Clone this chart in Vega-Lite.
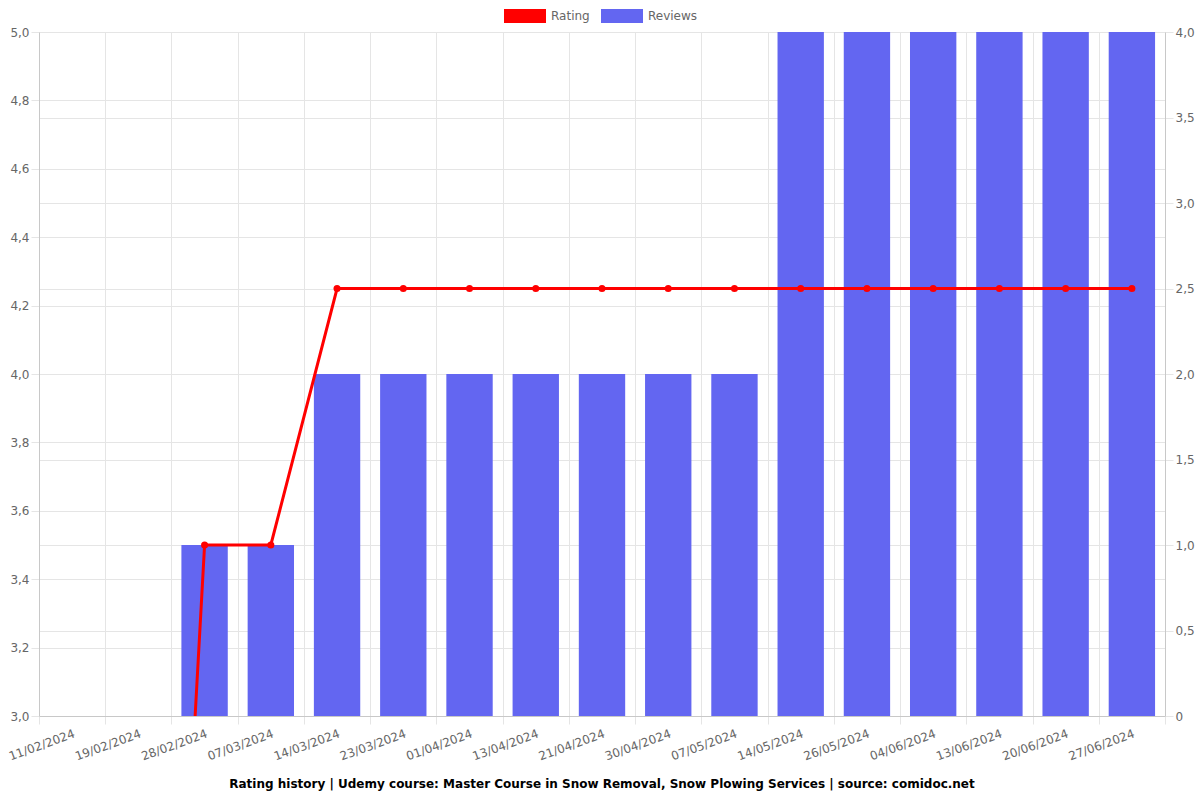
{
  "$schema": "https://vega.github.io/schema/vega-lite/v6.json",
  "width": 1126,
  "height": 684,
  "autosize": {"type": "none"},
  "padding": {"left": 39, "top": 32, "right": 35, "bottom": 84},
  "background": "#ffffff",
  "title": {
    "text": "Rating history | Udemy course: Master Course in Snow Removal, Snow Plowing Services | source: comidoc.net",
    "orient": "bottom",
    "anchor": "middle",
    "font": "DejaVu Sans",
    "fontSize": 12,
    "fontWeight": "bold",
    "color": "#000000",
    "offset": 17
  },
  "config": {
    "view": {"stroke": null},
    "axis": {
      "labelFont": "DejaVu Sans",
      "labelFontSize": 12,
      "labelColor": "#666666",
      "gridColor": "#e5e5e5",
      "domainColor": "#c8c8c8",
      "tickColor": "#e5e5e5",
      "tickSize": 8,
      "title": null
    }
  },
  "data": {
    "values": [
      {"date": "11/02/2024", "rating": 0, "reviews": 0},
      {"date": "19/02/2024", "rating": 0, "reviews": 0},
      {"date": "28/02/2024", "rating": 3.5, "reviews": 1},
      {"date": "07/03/2024", "rating": 3.5, "reviews": 1},
      {"date": "14/03/2024", "rating": 4.25, "reviews": 2},
      {"date": "23/03/2024", "rating": 4.25, "reviews": 2},
      {"date": "01/04/2024", "rating": 4.25, "reviews": 2},
      {"date": "13/04/2024", "rating": 4.25, "reviews": 2},
      {"date": "21/04/2024", "rating": 4.25, "reviews": 2},
      {"date": "30/04/2024", "rating": 4.25, "reviews": 2},
      {"date": "07/05/2024", "rating": 4.25, "reviews": 2},
      {"date": "14/05/2024", "rating": 4.25, "reviews": 4},
      {"date": "26/05/2024", "rating": 4.25, "reviews": 4},
      {"date": "04/06/2024", "rating": 4.25, "reviews": 4},
      {"date": "13/06/2024", "rating": 4.25, "reviews": 4},
      {"date": "20/06/2024", "rating": 4.25, "reviews": 4},
      {"date": "27/06/2024", "rating": 4.25, "reviews": 4}
    ]
  },
  "encoding": {
    "x": {
      "field": "date",
      "type": "nominal",
      "sort": null,
      "scale": {"paddingInner": 0, "paddingOuter": 0},
      "axis": {
        "labelAngle": -20,
        "labelAlign": "right",
        "labelBaseline": "top",
        "tickBand": "extent",
        "grid": true,
        "labelPadding": 4
      }
    }
  },
  "layer": [
    {
      "mark": {"type": "bar", "color": "#6366f1", "width": {"band": 0.7}},
      "encoding": {
        "y": {
          "field": "reviews",
          "type": "quantitative",
          "scale": {"domain": [0, 4], "nice": false},
          "axis": {
            "orient": "right",
            "values": [0, 0.5, 1, 1.5, 2, 2.5, 3, 3.5, 4],
            "labelExpr": "datum.value == 0 ? '0' : replace(format(datum.value, '.1f'), '.', ',')",
            "grid": true
          }
        },
        "color": {
          "datum": "Reviews",
          "scale": {"domain": ["Rating", "Reviews"], "range": ["#ff0000", "#6366f1"]},
          "legend": {
            "orient": "none",
            "legendX": 472,
            "legendY": -30,
            "direction": "horizontal",
            "title": null,
            "symbolType": "M-1.5,-0.5H1.5V0.5H-1.5Z",
            "symbolSize": 784,
            "symbolStrokeWidth": 0,
            "labelFont": "DejaVu Sans",
            "labelFontSize": 12,
            "labelColor": "#666666",
            "columnPadding": 11,
            "labelOffset": 12,
            "encode": {
              "symbols": {
                "update": {
                  "fill": {"scale": "color", "field": "value"},
                  "opacity": {"value": 1}
                }
              }
            }
          }
        }
      }
    },
    {
      "mark": {
        "type": "line",
        "clip": true,
        "strokeWidth": 3,
        "point": {"filled": true, "size": 50, "color": "#ff0000"}
      },
      "encoding": {
        "y": {
          "field": "rating",
          "type": "quantitative",
          "scale": {"domain": [3, 5], "nice": false, "zero": false},
          "axis": {
            "orient": "left",
            "values": [3, 3.2, 3.4, 3.6, 3.8, 4, 4.2, 4.4, 4.6, 4.8, 5],
            "labelExpr": "replace(format(datum.value, '.1f'), '.', ',')",
            "grid": true
          }
        },
        "color": {"datum": "Rating"}
      }
    }
  ],
  "resolve": {"scale": {"y": "independent"}}
}
